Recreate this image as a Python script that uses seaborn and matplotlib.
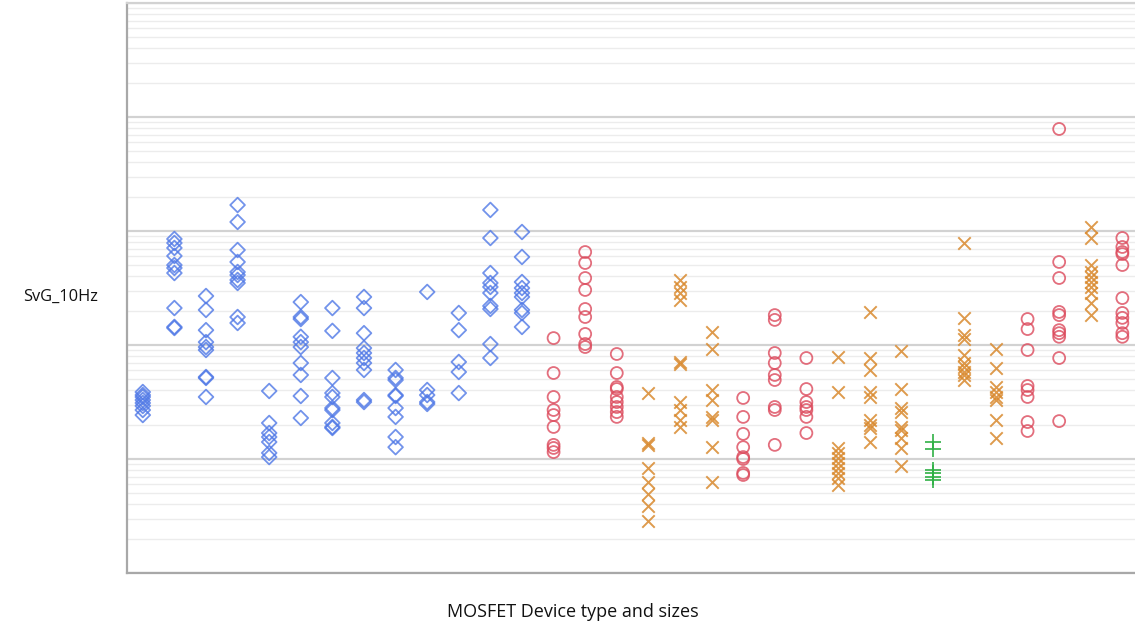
import numpy as np
import pandas as pd
import matplotlib
matplotlib.use("Agg")
import matplotlib.pyplot as plt
import seaborn as sns
from matplotlib.ticker import LogLocator, NullFormatter

# ---- data (SvG at 10 Hz, V^2/Hz), one list per device column ----
col_types = (["blue"] * 13 + ["red"] * 3 + ["orange"] * 3 + ["red"] * 3 +
             ["orange"] * 3 + ["green"] + ["orange"] * 2 + ["red"] * 2 +
             ["orange"] + ["red"])

svg_values = [
    [3.87e-13, 3.64e-13, 3.50e-13, 3.29e-13, 3.10e-13, 2.92e-13, 2.69e-13, 2.43e-13],
    [8.51e-12, 7.85e-12, 7.10e-12, 6.04e-12, 5.03e-12, 4.74e-12, 4.28e-12, 2.11e-12, 1.44e-12, 1.41e-12],
    [2.69e-12, 2.03e-12, 1.35e-12, 1.06e-12, 9.6e-13, 9.04e-13, 5.24e-13, 5.14e-13, 3.50e-13],
    [1.69e-11, 1.20e-11, 6.81e-12, 5.35e-12, 4.37e-12, 4.11e-12, 3.72e-12, 3.50e-12, 1.76e-12, 1.56e-12],
    [3.95e-13, 2.07e-13, 1.69e-13, 1.56e-13, 1.41e-13, 1.13e-13, 1.04e-13],
    [2.38e-12, 1.76e-12, 1.69e-12, 1.18e-12, 1.06e-12, 9.6e-13, 6.95e-13, 5.46e-13, 3.57e-13, 2.29e-13],
    [2.11e-12, 1.33e-12, 5.14e-13, 3.79e-13, 3.50e-13, 2.80e-13, 2.69e-13, 2.07e-13, 1.91e-13, 1.87e-13],
    [2.64e-12, 2.11e-12, 1.27e-12, 9.4e-13, 8.51e-13, 7.69e-13, 6.95e-13, 6.04e-13, 3.29e-13, 3.16e-13],
    [6.04e-13, 5.14e-13, 4.93e-13, 3.64e-13, 3.57e-13, 2.80e-13, 2.34e-13, 1.56e-13, 1.27e-13],
    [2.92e-12, 4.03e-13, 3.64e-13, 3.16e-13, 3.04e-13],
    [1.91e-12, 1.35e-12, 7.10e-13, 5.80e-13, 3.79e-13],
    [1.53e-11, 8.68e-12, 4.28e-12, 3.50e-12, 3.23e-12, 2.86e-12, 2.20e-12, 2.07e-12, 1.02e-12, 7.69e-13],
    [9.8e-12, 5.92e-12, 3.57e-12, 3.16e-12, 2.86e-12, 2.64e-12, 2.03e-12, 1.91e-12, 1.44e-12],
    [1.15e-12, 5.68e-13, 3.50e-13, 2.69e-13, 2.43e-13, 1.91e-13, 1.33e-13, 1.25e-13, 1.15e-13],
    [6.54e-12, 5.24e-12, 3.87e-12, 3.04e-12, 2.07e-12, 1.76e-12, 1.25e-12, 1.02e-12, 9.6e-13],
    [8.34e-13, 5.68e-13, 4.28e-13, 4.11e-13, 3.50e-13, 3.16e-13, 2.86e-13, 2.58e-13, 2.34e-13],
    [3.79e-13, 1.38e-13, 1.33e-13, 8.34e-14, 6.28e-14, 4.93e-14, 3.87e-14, 2.86e-14],
    [3.72e-12, 3.23e-12, 2.86e-12, 2.48e-12, 7.10e-13, 6.81e-13, 3.16e-13, 2.69e-13, 2.20e-13, 1.91e-13],
    [1.30e-12, 9.22e-13, 4.03e-13, 3.29e-13, 2.34e-13, 2.20e-13, 1.27e-13, 6.28e-14],
    [3.43e-13, 2.34e-13, 1.66e-13, 1.27e-13, 1.04e-13, 1.0e-13, 7.54e-14, 7.24e-14],
    [1.83e-12, 1.66e-12, 8.51e-13, 6.95e-13, 5.46e-13, 4.93e-13, 2.86e-13, 2.69e-13, 1.33e-13],
    [7.69e-13, 4.11e-13, 3.16e-13, 2.86e-13, 2.69e-13, 2.34e-13, 1.69e-13],
    [7.85e-13, 3.87e-13, 1.25e-13, 1.13e-13, 1.02e-13, 9.22e-14, 8.34e-14, 7.54e-14, 6.81e-14, 5.92e-14],
    [1.95e-12, 7.69e-13, 6.04e-13, 3.87e-13, 3.50e-13, 2.20e-13, 1.99e-13, 1.87e-13, 1.41e-13],
    [8.86e-13, 4.11e-13, 2.80e-13, 2.58e-13, 1.91e-13, 1.80e-13, 1.53e-13, 1.25e-13, 8.68e-14],
    [1.41e-13, 1.22e-13, 8.01e-14, 7.54e-14, 6.95e-14, 6.54e-14],
    [7.85e-12, 1.73e-12, 1.22e-12, 1.13e-12, 8.17e-13, 6.95e-13, 6.41e-13, 5.80e-13, 5.46e-13, 4.93e-13],
    [9.22e-13, 6.28e-13, 4.28e-13, 3.87e-13, 3.50e-13, 3.29e-13, 2.20e-13, 1.53e-13],
    [1.69e-12, 1.38e-12, 9.04e-13, 4.37e-13, 4.03e-13, 3.50e-13, 2.11e-13, 1.76e-13],
    [7.85e-11, 5.35e-12, 3.87e-12, 1.95e-12, 1.83e-12, 1.35e-12, 1.27e-12, 1.18e-12, 7.69e-13, 2.15e-13],
    [1.08e-11, 8.68e-12, 5.03e-12, 4.37e-12, 3.95e-12, 3.57e-12, 3.23e-12, 2.86e-12, 2.34e-12, 1.83e-12],
    [8.68e-12, 7.24e-12, 6.54e-12, 6.28e-12, 5.03e-12, 2.58e-12, 1.91e-12, 1.73e-12, 1.56e-12, 1.27e-12, 1.18e-12],
]

y_label = "SvG_10Hz"
x_label = "MOSFET Device type and sizes"

# ---- styling ----
styles = {
    "blue":   dict(color="#4f78e6", marker="D", s=56, hollow=True),
    "red":    dict(color="#dc4a5c", marker="o", s=74, hollow=True),
    "orange": dict(color="#d9892e", marker="x", s=80, hollow=False),
    "green":  dict(color="#2fb045", marker="+", s=120, hollow=False),
}

rows = []
for i, (t, vals) in enumerate(zip(col_types, svg_values)):
    for v in vals:
        rows.append({"pos": i, "svg": v, "type": t})
df = pd.DataFrame(rows)

sns.set_style("white")
plt.rcParams["font.family"] = ["Open Sans", "DejaVu Sans"]

fig = plt.figure(figsize=(11.35, 6.25), dpi=100)
W, H = 1135, 625
left, right, top, bottom = 127, 1135, 3, 573
ax = fig.add_axes([left / W, 1 - bottom / H, (right - left) / W, (bottom - top) / H])

for t, st in styles.items():
    sub = df[df["type"] == t]
    if st["hollow"]:
        sns.scatterplot(data=sub, x="pos", y="svg", marker=st["marker"], s=st["s"],
                        color=st["color"], facecolor="none", edgecolor=st["color"],
                        linewidth=1.3, alpha=0.8, ax=ax, legend=False, zorder=3)
    else:
        sns.scatterplot(data=sub, x="pos", y="svg", marker=st["marker"], s=st["s"],
                        color=st["color"], linewidth=1.4, alpha=0.85, ax=ax,
                        legend=False, zorder=3)

ax.set_yscale("log")
ax.set_ylim(1e-14, 1e-9)
ax.set_xlim(-0.5, 31.4)

ax.yaxis.set_major_locator(LogLocator(base=10, numticks=10))
ax.yaxis.set_minor_locator(LogLocator(base=10, subs=np.arange(2, 10), numticks=100))
ax.yaxis.set_major_formatter(NullFormatter())
ax.yaxis.set_minor_formatter(NullFormatter())
ax.set_xticks(range(len(col_types)))
ax.set_xticklabels([])

ax.grid(True, which="major", axis="y", color="#d2d2d2", linewidth=1.6, zorder=0)
ax.grid(True, which="minor", axis="y", color="#ececec", linewidth=1.0, zorder=0)
ax.set_axisbelow(True)

ax.spines["right"].set_visible(False)
ax.spines["top"].set_color("#d2d2d2")
ax.spines["top"].set_linewidth(1.6)
for sp in ["left", "bottom"]:
    ax.spines[sp].set_color("#a8a8a8")
    ax.spines[sp].set_linewidth(1.6)

ax.tick_params(axis="y", which="major", direction="in", length=8, color="#a8a8a8", width=1.2)
ax.tick_params(axis="y", which="minor", direction="in", length=4, color="#a8a8a8", width=1.0)
ax.tick_params(axis="x", which="major", direction="out", length=3, color="#c0c0c0", width=1.0)

ax.set_xlabel("")
ax.set_ylabel("")
fig.text(61 / W, 1 - 297 / H, y_label, ha="center", va="center", fontsize=11.8, color="#111111")
fig.text(573 / W, 1 - 612 / H, x_label, ha="center", va="center", fontsize=13, color="#111111")

fig.savefig("out.png", dpi=100)
